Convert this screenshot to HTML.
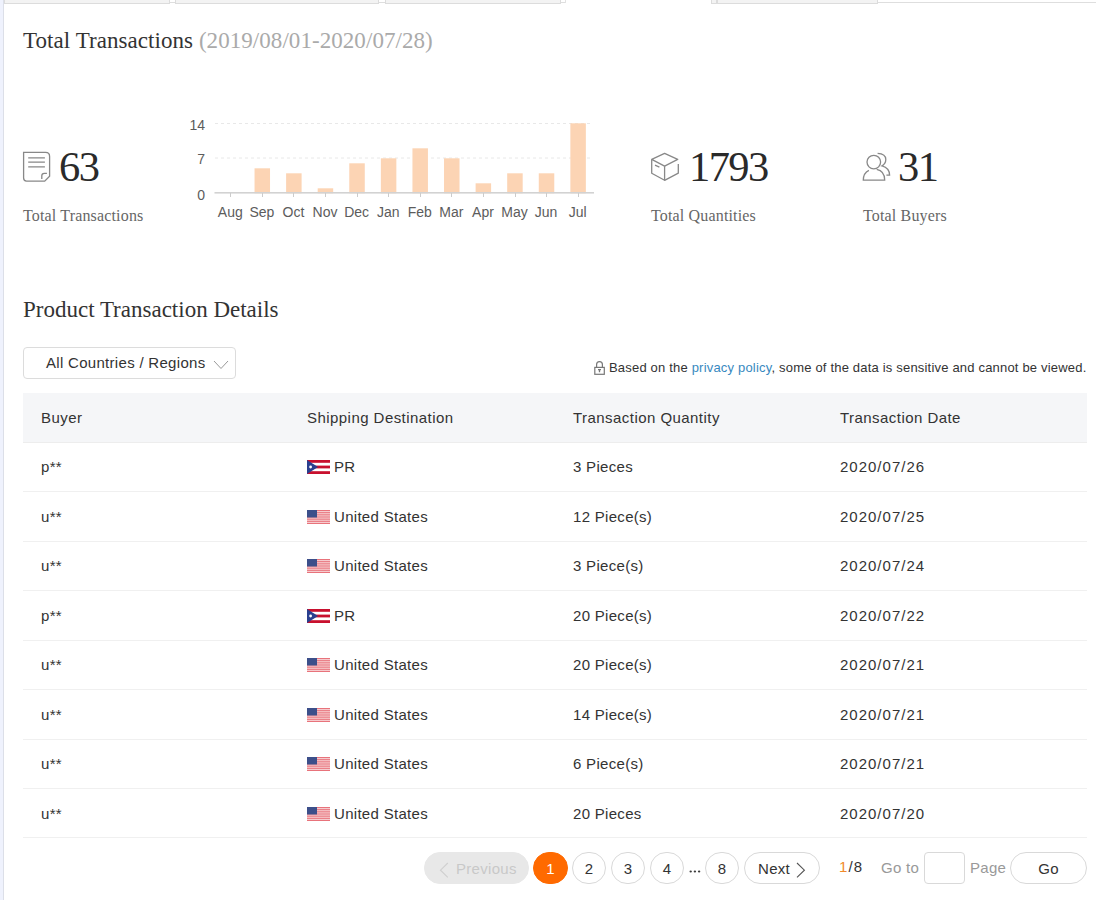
<!DOCTYPE html>
<html><head><meta charset="utf-8">
<style>
*{margin:0;padding:0;box-sizing:border-box}
html,body{width:1096px;height:900px;overflow:hidden;background:#fff}
body{position:relative;font-family:"Liberation Sans",sans-serif;color:#333}
.abs{position:absolute}
.serif{font-family:"Liberation Serif",serif}
#lstripe{left:0;top:0;width:3px;height:900px;background:#eff2fd}
#lborder{left:3px;top:0;width:1px;height:900px;background:#dcdfe8}
.tab{position:absolute;top:0;height:4px;background:#f3f3f3;border:1px solid #dcdcdc;border-top:none}
#tabline{left:877px;top:2px;width:219px;height:1px;background:#dcdcdc}
.title{left:23px;top:27px;font-size:23px;letter-spacing:.06px;line-height:28px;white-space:nowrap;color:#333}
.title span{color:#aaa}
.big{font-size:42.5px;letter-spacing:-1.6px;line-height:40px;color:#2a2a2a;white-space:nowrap}
.lbl{font-size:16px;letter-spacing:.16px;line-height:20px;color:#666;white-space:nowrap}
.ylab{font-size:14px;line-height:14px;color:#5c5c5c;width:20px;text-align:right}
.mlab{font-size:14px;letter-spacing:0;line-height:14px;color:#5c5c5c;width:32px;text-align:center}
.sec{left:23px;top:296px;font-size:23px;line-height:28px;color:#333;white-space:nowrap}
.dd{left:23px;top:347px;width:213px;height:32px;border:1px solid #dcdcdc;border-radius:4px;font-size:15px;letter-spacing:.3px;line-height:30px;padding-left:22px;color:#333}
.priv{left:609px;top:360px;font-size:13px;letter-spacing:.19px;line-height:16px;color:#333;white-space:nowrap}
.priv a{color:#3889c0;text-decoration:none}
.tbl{left:23px;top:393px;width:1064px}
.row{position:relative;height:49px;border-bottom:1px solid #f0f0f0;font-size:15px;letter-spacing:.3px;color:#333}
.row.h50{height:50px}
.row.hd{background:#f5f6f8;border-bottom:1px solid #ededed;height:50px}
.row div{position:absolute;top:0;line-height:48px;white-space:nowrap}
.row.h50 div,.row.hd div{line-height:49px}
.row.last div{top:1px}
.row.hd div{letter-spacing:.45px}
.row div.c4{letter-spacing:1px}
.row.hd div.c4{letter-spacing:.45px}
.c1{left:18px}.c2{left:284px}.c3{left:550px}.c4{left:817px}
.flag{display:inline-block;width:23px;height:14px;vertical-align:-2px;margin-right:4px}
.pg{position:absolute;top:852px;height:32px;border:1px solid #d9d9d9;border-radius:16px;font-size:15px;letter-spacing:.3px;line-height:31px;text-align:center;color:#333;background:#fff}
.pg.num{width:34px}
</style></head><body>
<div class="abs" id="lstripe"></div>
<div class="abs" id="lborder"></div>
<div class="abs" style="left:4px;top:2px;width:562px;height:1px;background:#dedede"></div>
<div class="abs" style="left:711px;top:2px;width:385px;height:1px;background:#dedede"></div>
<div class="tab" style="left:4px;width:166px"></div>
<div class="tab" style="left:175px;width:204px"></div>
<div class="tab" style="left:385px;width:176px"></div>
<div class="tab" style="left:711px;width:6px"></div>
<div class="tab" style="left:717px;width:161px"></div>
<div class="abs" style="left:565px;top:0;width:1px;height:3px;background:#e2e2e2"></div>

<div class="abs title serif">Total Transactions <span>(2019/08/01-2020/07/28)</span></div>

<!-- stat 1 -->
<svg class="abs" style="left:18px;top:146px" width="40" height="40" viewBox="18 146 40 40" fill="none" stroke="#888" stroke-width="1.3">
<path d="M23.6 152.4 H45.6 Q49.6 152.4 49.6 156.4 V176.2 L44.7 181.1 H26.6 Q23.6 181.1 23.6 178.1 Z"/>
<path d="M28.2 157.8 H44.9 M28.2 162.1 H44.9 M28.2 166.9 H44.9"/>
<path d="M41.8 179.1 V175.8 Q41.8 173.3 44.3 173.3 H46.9"/>
</svg>
<div class="abs big serif" style="left:59px;top:147px">63</div>
<div class="abs lbl serif" style="left:23px;top:206px">Total Transactions</div>

<!-- chart -->
<svg class="abs" style="left:180px;top:110px" width="430" height="115" viewBox="180 110 430 115">
<g stroke="#e8e8e8" stroke-width="1" stroke-dasharray="3,3">
<line x1="215" y1="123.5" x2="593" y2="123.5"/>
<line x1="215" y1="158" x2="593" y2="158"/>
</g>
<g fill="#fcd4b4"><rect x="254.53" y="168.30" width="15.50" height="25.00"/><rect x="286.11" y="173.30" width="15.50" height="20.00"/><rect x="317.69" y="188.30" width="15.50" height="5.00"/><rect x="349.27" y="163.30" width="15.50" height="30.00"/><rect x="380.86" y="158.30" width="15.50" height="35.00"/><rect x="412.44" y="148.30" width="15.50" height="45.00"/><rect x="444.02" y="158.30" width="15.50" height="35.00"/><rect x="475.61" y="183.30" width="15.50" height="10.00"/><rect x="507.19" y="173.30" width="15.50" height="20.00"/><rect x="538.77" y="173.30" width="15.50" height="20.00"/><rect x="570.36" y="123.30" width="15.50" height="70.00"/></g>
<rect x="214.5" y="192" width="379.5" height="1.6" fill="#d2d2d2"/>
<g stroke="#ccc" stroke-width="1"><line x1="230.5" x2="230.5" y1="193" y2="197"/><line x1="262.5" x2="262.5" y1="193" y2="197"/><line x1="293.5" x2="293.5" y1="193" y2="197"/><line x1="325.5" x2="325.5" y1="193" y2="197"/><line x1="357.5" x2="357.5" y1="193" y2="197"/><line x1="388.5" x2="388.5" y1="193" y2="197"/><line x1="420.5" x2="420.5" y1="193" y2="197"/><line x1="451.5" x2="451.5" y1="193" y2="197"/><line x1="483.5" x2="483.5" y1="193" y2="197"/><line x1="515.5" x2="515.5" y1="193" y2="197"/><line x1="546.5" x2="546.5" y1="193" y2="197"/><line x1="578.5" x2="578.5" y1="193" y2="197"/></g>
</svg>
<div class="abs ylab" style="left:185px;top:118px">14</div>
<div class="abs ylab" style="left:185px;top:152px">7</div>
<div class="abs ylab" style="left:185px;top:188px">0</div>
<div class="abs mlab" style="left:214.29px;top:205px">Aug</div>
<div class="abs mlab" style="left:245.88px;top:205px">Sep</div>
<div class="abs mlab" style="left:277.46px;top:205px">Oct</div>
<div class="abs mlab" style="left:309.04px;top:205px">Nov</div>
<div class="abs mlab" style="left:340.62px;top:205px">Dec</div>
<div class="abs mlab" style="left:372.21px;top:205px">Jan</div>
<div class="abs mlab" style="left:403.79px;top:205px">Feb</div>
<div class="abs mlab" style="left:435.38px;top:205px">Mar</div>
<div class="abs mlab" style="left:466.96px;top:205px">Apr</div>
<div class="abs mlab" style="left:498.54px;top:205px">May</div>
<div class="abs mlab" style="left:530.12px;top:205px">Jun</div>
<div class="abs mlab" style="left:561.71px;top:205px">Jul</div>


<!-- stat 2 -->
<svg class="abs" style="left:645px;top:145px" width="40" height="40" viewBox="645 145 40 40" fill="none" stroke="#888" stroke-width="1.3" stroke-linejoin="round">
<path d="M664.6 153.4 L677.7 159.4 L664.6 166.1 L651.7 159.4 Z"/>
<path d="M651.7 159.4 V173.2 L664.6 180.3 L678.3 173.2 V164.1"/>
<path d="M664.6 166.1 V180.3"/>
<path d="M655 165.2 L659.4 167.2"/>
</svg>
<div class="abs big serif" style="left:689px;top:147px">1793</div>
<div class="abs lbl serif" style="left:651px;top:206px">Total Quantities</div>

<!-- stat 3 -->
<svg class="abs" style="left:858px;top:145px" width="40" height="40" viewBox="858 145 40 40" fill="none" stroke="#888" stroke-width="1.3">
<circle cx="873.8" cy="162.1" r="6.8"/>
<path d="M868.9 170.3 Q863.3 173 863.3 180.1 H884.7 Q884.7 171 876.7 169.4"/>
<path d="M877.6 153.4 Q885.8 153.8 885.8 159.5 Q885.8 163.5 882 165.9 Q889.6 168 889.6 175.2 H886.4"/>
</svg>
<div class="abs big serif" style="left:898px;top:147px">31</div>
<div class="abs lbl serif" style="left:863px;top:206px">Total Buyers</div>

<div class="abs sec serif">Product Transaction Details</div>

<div class="abs dd">All Countries / Regions
<svg class="abs" style="left:189px;top:12px" width="16" height="10" viewBox="0 0 16 10" fill="none" stroke="#999" stroke-width="1"><path d="M1 1 L8 8.5 L15 1"/></svg>
</div>

<svg class="abs" style="left:590px;top:357px" width="20" height="20" viewBox="590 357 20 20" fill="none" stroke="#777" stroke-width="1.2"><path d="M596.6 367.3 V364.6 Q596.6 361.6 599.5 361.6 Q602.4 361.6 602.4 364.6 V367.3"/><rect x="594.8" y="367.4" width="9.5" height="6.9"/><path d="M598 369.6 H601 M599.5 369.6 V372.3" stroke-width="1.3"/></svg>
<div class="abs priv">Based on the <a>privacy policy</a>, some of the data is sensitive and cannot be viewed.</div>

<div class="abs tbl">
<div class="row hd"><div class="c1">Buyer</div><div class="c2">Shipping Destination</div><div class="c3">Transaction Quantity</div><div class="c4">Transaction Date</div></div>
<div class="row"><div class="c1">p**</div><div class="c2"><svg class="flag" viewBox="0 0 23 14"><rect width="23" height="14" fill="#c8102e"/><rect y="2.8" width="23" height="2.8" fill="#fff"/><rect y="8.4" width="23" height="2.8" fill="#fff"/><path d="M0 0 L11 7 L0 14 Z" fill="#2a3f8f"/><circle cx="3.6" cy="7" r="1.4" fill="#fff"/></svg>PR</div><div class="c3">3 Pieces</div><div class="c4">2020/07/26</div></div>
<div class="row h50"><div class="c1">u**</div><div class="c2"><svg class="flag" viewBox="0 0 23 14"><rect width="23" height="14" fill="#e8737b"/><rect y="1.077" width="23" height="1.077" fill="#f7d3d5"/><rect y="3.231" width="23" height="1.077" fill="#f7d3d5"/><rect y="5.385" width="23" height="1.077" fill="#f7d3d5"/><rect y="7.538" width="23" height="1.077" fill="#f7d3d5"/><rect y="9.692" width="23" height="1.077" fill="#f7d3d5"/><rect y="11.846" width="23" height="1.077" fill="#f7d3d5"/><rect width="10" height="7.5" fill="#3c4f8a"/></svg>United States</div><div class="c3">12 Piece(s)</div><div class="c4">2020/07/25</div></div>
<div class="row"><div class="c1">u**</div><div class="c2"><svg class="flag" viewBox="0 0 23 14"><rect width="23" height="14" fill="#e8737b"/><rect y="1.077" width="23" height="1.077" fill="#f7d3d5"/><rect y="3.231" width="23" height="1.077" fill="#f7d3d5"/><rect y="5.385" width="23" height="1.077" fill="#f7d3d5"/><rect y="7.538" width="23" height="1.077" fill="#f7d3d5"/><rect y="9.692" width="23" height="1.077" fill="#f7d3d5"/><rect y="11.846" width="23" height="1.077" fill="#f7d3d5"/><rect width="10" height="7.5" fill="#3c4f8a"/></svg>United States</div><div class="c3">3 Piece(s)</div><div class="c4">2020/07/24</div></div>
<div class="row h50"><div class="c1">p**</div><div class="c2"><svg class="flag" viewBox="0 0 23 14"><rect width="23" height="14" fill="#c8102e"/><rect y="2.8" width="23" height="2.8" fill="#fff"/><rect y="8.4" width="23" height="2.8" fill="#fff"/><path d="M0 0 L11 7 L0 14 Z" fill="#2a3f8f"/><circle cx="3.6" cy="7" r="1.4" fill="#fff"/></svg>PR</div><div class="c3">20 Piece(s)</div><div class="c4">2020/07/22</div></div>
<div class="row"><div class="c1">u**</div><div class="c2"><svg class="flag" viewBox="0 0 23 14"><rect width="23" height="14" fill="#e8737b"/><rect y="1.077" width="23" height="1.077" fill="#f7d3d5"/><rect y="3.231" width="23" height="1.077" fill="#f7d3d5"/><rect y="5.385" width="23" height="1.077" fill="#f7d3d5"/><rect y="7.538" width="23" height="1.077" fill="#f7d3d5"/><rect y="9.692" width="23" height="1.077" fill="#f7d3d5"/><rect y="11.846" width="23" height="1.077" fill="#f7d3d5"/><rect width="10" height="7.5" fill="#3c4f8a"/></svg>United States</div><div class="c3">20 Piece(s)</div><div class="c4">2020/07/21</div></div>
<div class="row h50"><div class="c1">u**</div><div class="c2"><svg class="flag" viewBox="0 0 23 14"><rect width="23" height="14" fill="#e8737b"/><rect y="1.077" width="23" height="1.077" fill="#f7d3d5"/><rect y="3.231" width="23" height="1.077" fill="#f7d3d5"/><rect y="5.385" width="23" height="1.077" fill="#f7d3d5"/><rect y="7.538" width="23" height="1.077" fill="#f7d3d5"/><rect y="9.692" width="23" height="1.077" fill="#f7d3d5"/><rect y="11.846" width="23" height="1.077" fill="#f7d3d5"/><rect width="10" height="7.5" fill="#3c4f8a"/></svg>United States</div><div class="c3">14 Piece(s)</div><div class="c4">2020/07/21</div></div>
<div class="row"><div class="c1">u**</div><div class="c2"><svg class="flag" viewBox="0 0 23 14"><rect width="23" height="14" fill="#e8737b"/><rect y="1.077" width="23" height="1.077" fill="#f7d3d5"/><rect y="3.231" width="23" height="1.077" fill="#f7d3d5"/><rect y="5.385" width="23" height="1.077" fill="#f7d3d5"/><rect y="7.538" width="23" height="1.077" fill="#f7d3d5"/><rect y="9.692" width="23" height="1.077" fill="#f7d3d5"/><rect y="11.846" width="23" height="1.077" fill="#f7d3d5"/><rect width="10" height="7.5" fill="#3c4f8a"/></svg>United States</div><div class="c3">6 Piece(s)</div><div class="c4">2020/07/21</div></div>
<div class="row last"><div class="c1">u**</div><div class="c2"><svg class="flag" viewBox="0 0 23 14"><rect width="23" height="14" fill="#e8737b"/><rect y="1.077" width="23" height="1.077" fill="#f7d3d5"/><rect y="3.231" width="23" height="1.077" fill="#f7d3d5"/><rect y="5.385" width="23" height="1.077" fill="#f7d3d5"/><rect y="7.538" width="23" height="1.077" fill="#f7d3d5"/><rect y="9.692" width="23" height="1.077" fill="#f7d3d5"/><rect y="11.846" width="23" height="1.077" fill="#f7d3d5"/><rect width="10" height="7.5" fill="#3c4f8a"/></svg>United States</div><div class="c3">20 Pieces</div><div class="c4">2020/07/20</div></div>
</div>

<!-- pagination -->
<div class="pg" style="left:424px;width:105px;background:#e8e8e8;border-color:#e8e8e8;color:#c8c8c8;text-align:left;padding-left:31px">Previous</div>
<svg class="abs" style="left:436px;top:860px" width="16" height="20" viewBox="436 860 16 20" fill="none" stroke="#cfcfcf" stroke-width="1.1"><path d="M447.8 863 L440.5 870.2 L447.8 877.4"/></svg>
<div class="pg num" style="left:533px;width:35px;background:#ff6a00;border-color:#ff6a00;color:#fff">1</div>
<div class="pg num" style="left:572px">2</div>
<div class="pg num" style="left:611px">3</div>
<div class="pg num" style="left:650px">4</div>
<svg class="abs" style="left:686px;top:866px" width="18" height="10" viewBox="686 866 18 10" fill="#3a3a3a"><ellipse cx="690.7" cy="871.5" rx="1.2" ry="0.9"/><ellipse cx="694.9" cy="871.5" rx="1.2" ry="0.9"/><ellipse cx="699.1" cy="871.5" rx="1.2" ry="0.9"/></svg>
<div class="pg num" style="left:705px">8</div>
<div class="pg" style="left:744px;width:76px;text-align:left;padding-left:13px">Next</div>
<svg class="abs" style="left:794px;top:860px" width="14" height="20" viewBox="794 860 14 20" fill="none" stroke="#555" stroke-width="1.1"><path d="M797 863 L804.4 870.2 L797 877.4"/></svg>
<div class="abs" style="left:839px;top:858px;font-size:15px;letter-spacing:1.1px;line-height:18px;color:#333"><span style="color:#f08a2c">1</span>/8</div>
<div class="abs" style="left:881px;top:859px;font-size:15px;letter-spacing:.3px;line-height:18px;color:#999">Go to</div>
<div class="abs" style="left:924px;top:852px;width:41px;height:32px;border:1px solid #d9d9d9;border-radius:4px"></div>
<div class="abs" style="left:970px;top:859px;font-size:15px;letter-spacing:.3px;line-height:18px;color:#999">Page</div>
<div class="pg" style="left:1010px;width:77px">Go</div>

</body></html>
